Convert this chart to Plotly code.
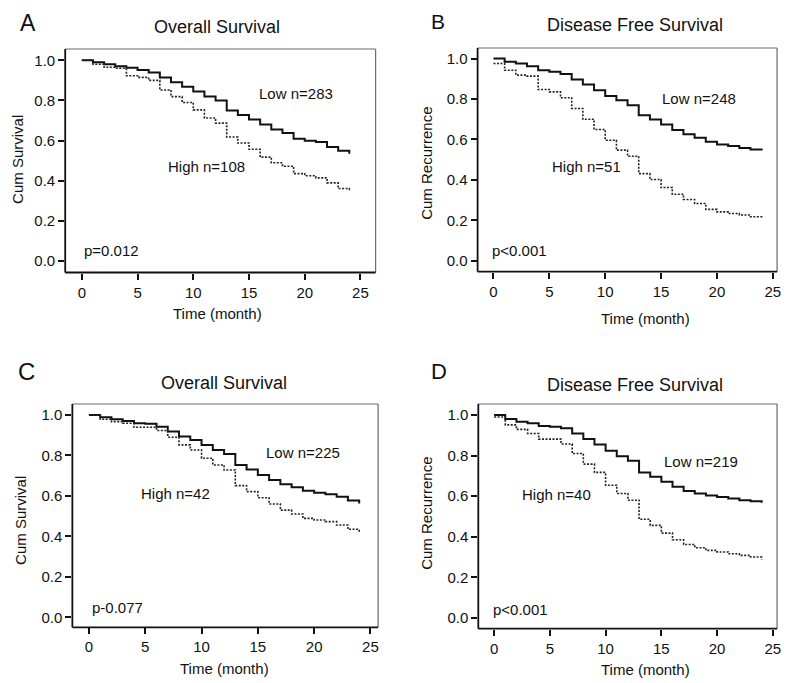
import plotly.graph_objects as go

W, H = 796, 683
OFF = 8                      # page body margin
FW, FH = W - OFF, H - OFF

months = list(range(25))

# Panel A: Overall Survival
a_low = [1.0, 0.99, 0.98, 0.97, 0.963, 0.952, 0.939, 0.914, 0.89, 0.868, 0.845, 0.82, 0.80,
         0.75, 0.728, 0.705, 0.68, 0.655, 0.638, 0.61, 0.60, 0.593, 0.568, 0.55, 0.535]
a_high = [1.0, 0.98, 0.965, 0.96, 0.923, 0.915, 0.90, 0.852, 0.819, 0.79, 0.753, 0.713, 0.687,
          0.618, 0.588, 0.557, 0.518, 0.49, 0.473, 0.436, 0.425, 0.415, 0.39, 0.362, 0.346]
# Panel B: Disease Free Survival
b_low = [1.0, 0.984, 0.975, 0.962, 0.942, 0.934, 0.923, 0.896, 0.871, 0.843, 0.815, 0.794, 0.769,
         0.72, 0.698, 0.674, 0.646, 0.626, 0.608, 0.588, 0.575, 0.567, 0.558, 0.55, 0.545]
b_high = [0.975, 0.942, 0.918, 0.913, 0.847, 0.835, 0.806, 0.753, 0.70, 0.649, 0.596, 0.547, 0.517,
          0.431, 0.402, 0.362, 0.329, 0.303, 0.283, 0.254, 0.242, 0.234, 0.226, 0.218, 0.209]
# Panel C: Overall Survival
c_low = [1.0, 0.988, 0.979, 0.97, 0.959, 0.956, 0.942, 0.918, 0.893, 0.876, 0.852, 0.827, 0.807,
         0.753, 0.731, 0.703, 0.679, 0.657, 0.643, 0.626, 0.616, 0.608, 0.596, 0.577, 0.563]
c_high = [1.0, 0.979, 0.967, 0.959, 0.939, 0.939, 0.923, 0.89, 0.852, 0.827, 0.786, 0.753, 0.728,
          0.651, 0.621, 0.591, 0.56, 0.53, 0.511, 0.489, 0.481, 0.473, 0.456, 0.435, 0.415]
# Panel D: Disease Free Survival
d_low = [1.0, 0.98, 0.967, 0.959, 0.946, 0.942, 0.934, 0.909, 0.881, 0.855, 0.824, 0.797, 0.774,
         0.717, 0.695, 0.671, 0.646, 0.626, 0.613, 0.603, 0.596, 0.588, 0.58, 0.575, 0.567]
d_high = [0.99, 0.951, 0.929, 0.909, 0.881, 0.881, 0.857, 0.81, 0.758, 0.717, 0.654, 0.613, 0.58,
          0.486, 0.456, 0.418, 0.385, 0.362, 0.346, 0.333, 0.325, 0.316, 0.308, 0.30, 0.288]

panel_letters = ["A", "B", "C", "D"]
panel_titles = ["Overall Survival", "Disease Free Survival", "Overall Survival", "Disease Free Survival"]
y_titles = ["Cum Survival", "Cum Recurrence", "Cum Survival", "Cum Recurrence"]
low_labels = ["Low n=283", "Low n=248", "Low n=225", "Low n=219"]
high_labels = ["High n=108", "High n=51", "High n=42", "High n=40"]
p_labels = ["p=0.012", "p<0.001", "p-0.077", "p<0.001"]
x_ticks = [0, 5, 10, 15, 20, 25]
y_ticks = [0.0, 0.2, 0.4, 0.6, 0.8, 1.0]
y_ticktext = ["0.0", "0.2", "0.4", "0.6", "0.8", "1.0"]

lows = [a_low, b_low, c_low, d_low]
highs = [a_high, b_high, c_high, d_high]

FONT = "Arial, Liberation Sans, Helvetica, sans-serif"
TXT = "#111111"

def px(x):
    return (x - OFF) / FW

def py(y):
    return 1 - (y - OFF) / FH

# box geometry in window pixels: (left, right, top, bottom), axis ranges
boxes = [
    (65.5, 377.5, 49, 272.5, [-1.49, 26.36], [-0.056, 1.056]),
    (480, 781, 48, 271.7, [-1.42, 25.38], [-0.054, 1.052]),
    (72.7, 380, 404, 627.3, [-1.47, 25.68], [-0.049, 1.054]),
    (480.7, 781, 404, 628.7, [-1.42, 25.38], [-0.053, 1.054]),
]
# letters: (x centre, top y, size)
letter_pos = [(28, 8, 23), (440, 8, 21), (27, 356, 24), (441, 357, 22)]
title_pos = [(218, 27), (638, 25), (225, 383), (638, 385)]
ytitle_pos = [(17, 159), (428, 163), (20, 520), (428, 513)]
xtitle_pos = [(219, 313), (649, 319), (226, 668), (649, 669)]
low_pos = [(19.2, 0.833), (18.4, 0.80), (19.05, 0.814), (18.6, 0.769)]
high_pos = [(11.2, 0.473), (8.3, 0.464), (7.66, 0.613), (5.6, 0.608)]
p_pos = [(0.0, 0.053), (-0.3, 0.05), (0.06, 0.047), (-0.27, 0.041)]

fig = go.Figure()
annotations = []
shapes = []

def ann(text, x, y, size, xref="paper", yref="paper", **kw):
    d = dict(text=text, x=x, y=y, xref=xref, yref=yref, showarrow=False,
             xanchor=kw.pop("xanchor", "center"), yanchor=kw.pop("yanchor", "middle"),
             font=dict(family=FONT, size=size, color=TXT))
    d.update(kw)
    annotations.append(d)

for i in range(4):
    ax = "" if i == 0 else str(i + 1)
    xa, ya = "x" + ax, "y" + ax
    fig.add_trace(go.Scatter(x=months, y=lows[i], mode="lines", line_shape="hv",
                             line=dict(color="#111111", width=2), xaxis=xa, yaxis=ya,
                             showlegend=False, hoverinfo="skip"))
    fig.add_trace(go.Scatter(x=months, y=highs[i], mode="lines", line_shape="hv",
                             line=dict(color="#222222", width=1.6, dash="2px,1.5px"),
                             xaxis=xa, yaxis=ya, showlegend=False, hoverinfo="skip"))
    l, r, t, b, xr, yr = boxes[i]
    common = dict(showline=False, showgrid=False, zeroline=False, ticks="outside", ticklen=6,
                  tickwidth=1.5, tickcolor="#111111",
                  tickfont=dict(family=FONT, size=15, color=TXT))
    fig.update_layout(**{
        "xaxis" + ax: dict(domain=[px(l), px(r)], range=xr, tickvals=x_ticks,
                           anchor=ya, **common),
        "yaxis" + ax: dict(domain=[py(b), py(t)], range=yr, tickvals=y_ticks,
                           ticktext=y_ticktext, anchor=xa, **common),
    })
    dx, dy = xa + " domain", ya + " domain"
    # top and right frame lines (grey, thin)
    shapes.append(dict(type="line", xref=dx, yref=dy, x0=0, x1=1, y0=1, y1=1,
                       line=dict(color="#6a6a6a", width=1.2), layer="above"))
    shapes.append(dict(type="line", xref=dx, yref=dy, x0=1, x1=1, y0=0, y1=1,
                       line=dict(color="#6a6a6a", width=1.2), layer="above"))
    # left and bottom frame lines (black)
    shapes.append(dict(type="line", xref=dx, yref=dy, x0=0, x1=0, y0=0, y1=1,
                       line=dict(color="#111111", width=1.8), layer="above"))
    shapes.append(dict(type="line", xref=dx, yref=dy, x0=0, x1=1, y0=0, y1=0,
                       line=dict(color="#111111", width=1.8), layer="above"))
    lx, ly, ls = letter_pos[i]
    ann(panel_letters[i], px(lx), py(ly), ls, yanchor="top")
    tx, ty = title_pos[i]
    ann(panel_titles[i], px(tx), py(ty), 18)
    yx, yy = ytitle_pos[i]
    ann(y_titles[i], px(yx), py(yy), 15, textangle=-90)
    xx, xy = xtitle_pos[i]
    ann("Time (month)", px(xx), py(xy), 15)
    ann(low_labels[i], low_pos[i][0], low_pos[i][1], 15, xref=xa, yref=ya)
    ann(high_labels[i], high_pos[i][0], high_pos[i][1], 15, xref=xa, yref=ya)
    ann(p_labels[i], p_pos[i][0], p_pos[i][1], 15, xref=xa, yref=ya, xanchor="left")

fig.update_layout(width=FW, height=FH, margin=dict(l=0, r=0, t=0, b=0),
                  paper_bgcolor="white", plot_bgcolor="white",
                  annotations=annotations, shapes=shapes)
fig.write_html("out.html")
